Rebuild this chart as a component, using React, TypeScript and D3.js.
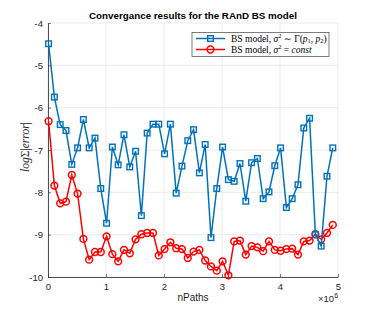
import React, { useEffect, useRef } from 'react';
import * as d3 from 'd3';

// nPaths used in the runs
const nPaths = [
  10000, 110000, 210000, 310000, 410000, 510000, 610000, 710000, 810000, 910000,
  1010000, 1110000, 1210000, 1310000, 1410000, 1510000, 1610000, 1710000, 1810000, 1910000,
  2010000, 2110000, 2210000, 2310000, 2410000, 2510000, 2610000, 2710000, 2810000, 2910000,
  3010000, 3110000, 3210000, 3310000, 3410000, 3510000, 3610000, 3710000, 3810000, 3910000,
  4010000, 4110000, 4210000, 4310000, 4410000, 4510000, 4610000, 4710000, 4810000, 4910000,
];

// BS model, sigma^2 ~ Gamma(p1, p2)
const errGamma = [
  -4.49, -5.75, -6.40, -6.54, -7.34, -6.95, -6.28, -6.95, -6.72, -7.91,
  -8.73, -6.93, -7.35, -6.64, -7.40, -7.03, -8.55, -6.60, -6.39, -6.39,
  -7.09, -6.39, -8.02, -7.38, -6.78, -6.52, -7.54, -6.87, -9.07, -7.91,
  -6.93, -7.70, -7.74, -7.32, -8.21, -7.30, -7.20, -8.15, -7.99, -7.37,
  -6.95, -8.36, -8.15, -7.82, -6.48, -6.25, -9.00, -9.27, -7.62, -6.95,
];

// BS model, sigma^2 = const
const errConst = [
  -6.32, -7.84, -8.26, -8.22, -7.59, -8.03, -9.10, -9.59, -9.41, -9.41,
  -9.04, -9.46, -9.63, -9.36, -9.44, -9.11, -8.99, -8.96, -8.96, -9.49,
  -9.34, -9.18, -9.32, -9.34, -9.55, -9.40, -9.36, -9.61, -9.75, -9.85,
  -9.63, -9.96, -9.16, -9.14, -9.47, -9.27, -9.30, -9.39, -9.16, -9.36,
  -9.38, -9.34, -9.33, -9.47, -9.16, -9.14, -8.99, -9.11, -8.96, -8.77,
];

const xTicks = [0, 1e6, 2e6, 3e6, 4e6, 5e6];
const yTicks = [-4, -5, -6, -7, -8, -9, -10];

const BLUE = '#0072BD';
const RED = '#FF0000';
const AXIS = '#262626';
const GRID = '#e3e3e3';
const SANS = '"Liberation Sans", Arial, sans-serif';
const SERIF = '"Liberation Serif", "DejaVu Serif", serif';

export default function App() {
  const ref = useRef<SVGSVGElement>(null);

  useEffect(() => {
    const svg = d3.select(ref.current);
    svg.selectAll('*').remove();

    const left = 48, right = 338, top = 23, bottom = 277;
    const x = d3.scaleLinear().domain([0, 5e6]).range([left, right]);
    const y = d3.scaleLinear().domain([-10, -4]).range([bottom, top]);

    // grid
    const grid = svg.append('g');
    xTicks.forEach(t => {
      grid.append('line').attr('x1', x(t)).attr('x2', x(t)).attr('y1', top).attr('y2', bottom)
        .attr('stroke', GRID).attr('stroke-width', 0.7);
    });
    yTicks.forEach(t => {
      grid.append('line').attr('x1', left).attr('x2', right).attr('y1', y(t)).attr('y2', y(t))
        .attr('stroke', GRID).attr('stroke-width', 0.7);
    });

    // axes
    const xAxis = d3.axisBottom(x).tickValues(xTicks).tickSizeInner(-3).tickSizeOuter(0)
      .tickPadding(6).tickFormat(d => String(+d / 1e6));
    const yAxis = d3.axisLeft(y).tickValues(yTicks).tickSizeInner(-3).tickSizeOuter(0)
      .tickPadding(5).tickFormat(d => String(d));

    const gx = svg.append('g').attr('transform', `translate(0,${bottom})`).call(xAxis);
    const gy = svg.append('g').attr('transform', `translate(${left},0)`).call(yAxis);
    [gx, gy].forEach(g => {
      g.selectAll('path').attr('stroke', AXIS).attr('stroke-width', 0.8);
      g.selectAll('line').attr('stroke', AXIS).attr('stroke-width', 0.6);
      g.selectAll('text').attr('fill', AXIS).style('font-family', SANS).style('font-size', '9.5px');
    });

    const line = d3.line<number>().x((_, i) => x(nPaths[i])).y(d => y(d));

    // const series
    svg.append('path').datum(errConst).attr('d', line).attr('fill', 'none')
      .attr('stroke', RED).attr('stroke-width', 1.5);
    svg.append('g').selectAll('circle').data(errConst).join('circle')
      .attr('cx', (_, i) => x(nPaths[i])).attr('cy', d => y(d)).attr('r', 3.4)
      .attr('fill', 'none').attr('stroke', RED).attr('stroke-width', 1.5);

    // gamma series
    svg.append('path').datum(errGamma).attr('d', line).attr('fill', 'none')
      .attr('stroke', BLUE).attr('stroke-width', 1.5);
    svg.append('g').selectAll('rect').data(errGamma).join('rect')
      .attr('x', (_, i) => x(nPaths[i]) - 2.8).attr('y', d => y(d) - 2.8)
      .attr('width', 5.6).attr('height', 5.6)
      .attr('fill', 'none').attr('stroke', BLUE).attr('stroke-width', 1.4);

    // title
    svg.append('text').attr('x', 193).attr('y', 19).attr('text-anchor', 'middle')
      .style('font-family', SANS).style('font-size', '9.8px').style('font-weight', 'bold')
      .attr('fill', '#000').text('Convergance results for the RAnD BS model');

    // x label
    svg.append('text').attr('x', 193).attr('y', 301).attr('text-anchor', 'middle')
      .style('font-family', SANS).style('font-size', '10px').attr('fill', AXIS).text('nPaths');

    // exponent
    const ex = svg.append('text').attr('x', 318).attr('y', 302)
      .style('font-family', SANS).style('font-size', '9.5px').attr('fill', AXIS);
    ex.append('tspan').text('\u00d710');
    ex.append('tspan').attr('dy', -4).style('font-size', '7px').text('6');

    // y label
    const yl = svg.append('text').attr('transform', 'translate(29,147) rotate(-90)')
      .attr('text-anchor', 'middle').style('font-family', SERIF).style('font-size', '11.5px')
      .attr('fill', AXIS);
    yl.append('tspan').style('font-style', 'italic').text('log');
    yl.append('tspan').text('\u03a3|');
    yl.append('tspan').style('font-style', 'italic').text('error');
    yl.append('tspan').text('|');

    // legend
    const lg = svg.append('g');
    lg.append('rect').attr('x', 192).attr('y', 32.5).attr('width', 137).attr('height', 24)
      .attr('fill', '#fff').attr('stroke', AXIS).attr('stroke-width', 0.6);
    const rows = [
      { color: BLUE, marker: 'square', cy: 38.5 },
      { color: RED, marker: 'circle', cy: 49.5 },
    ];
    rows.forEach(r => {
      lg.append('line').attr('x1', 196).attr('x2', 225).attr('y1', r.cy).attr('y2', r.cy)
        .attr('stroke', r.color).attr('stroke-width', 1.5);
      if (r.marker === 'square') {
        lg.append('rect').attr('x', 207.7).attr('y', r.cy - 2.8).attr('width', 5.6).attr('height', 5.6)
          .attr('fill', 'none').attr('stroke', r.color).attr('stroke-width', 1.4);
      } else {
        lg.append('circle').attr('cx', 210.5).attr('cy', r.cy).attr('r', 3.4)
          .attr('fill', 'none').attr('stroke', r.color).attr('stroke-width', 1.5);
      }
    });
    const t1 = lg.append('text').attr('x', 231).attr('y', 41.8)
      .style('font-family', SERIF).style('font-size', '9.5px').attr('fill', '#000');
    t1.append('tspan').text('BS model, ');
    t1.append('tspan').style('font-style', 'italic').text('\u03c3');
    t1.append('tspan').attr('dy', -3.5).style('font-size', '6.5px').text('2');
    t1.append('tspan').attr('dy', 3.5).text(' \u223c \u0393(');
    t1.append('tspan').style('font-style', 'italic').text('p');
    t1.append('tspan').attr('dy', 1.5).style('font-size', '6.5px').text('1');
    t1.append('tspan').attr('dy', -1.5).text(', ');
    t1.append('tspan').style('font-style', 'italic').text('p');
    t1.append('tspan').attr('dy', 1.5).style('font-size', '6.5px').text('2');
    t1.append('tspan').attr('dy', -1.5).text(')');

    const t2 = lg.append('text').attr('x', 231).attr('y', 52.8)
      .style('font-family', SERIF).style('font-size', '9.5px').attr('fill', '#000');
    t2.append('tspan').text('BS model, ');
    t2.append('tspan').style('font-style', 'italic').text('\u03c3');
    t2.append('tspan').attr('dy', -3.5).style('font-size', '6.5px').text('2');
    t2.append('tspan').attr('dy', 3.5).text(' = ');
    t2.append('tspan').style('font-style', 'italic').text('const');
  }, []);

  return (
    <div style={{ position: 'absolute', left: 0, top: 0 }}>
      <svg ref={ref} width={374} height={311} style={{ display: 'block', background: '#fff' }} />
    </div>
  );
}
